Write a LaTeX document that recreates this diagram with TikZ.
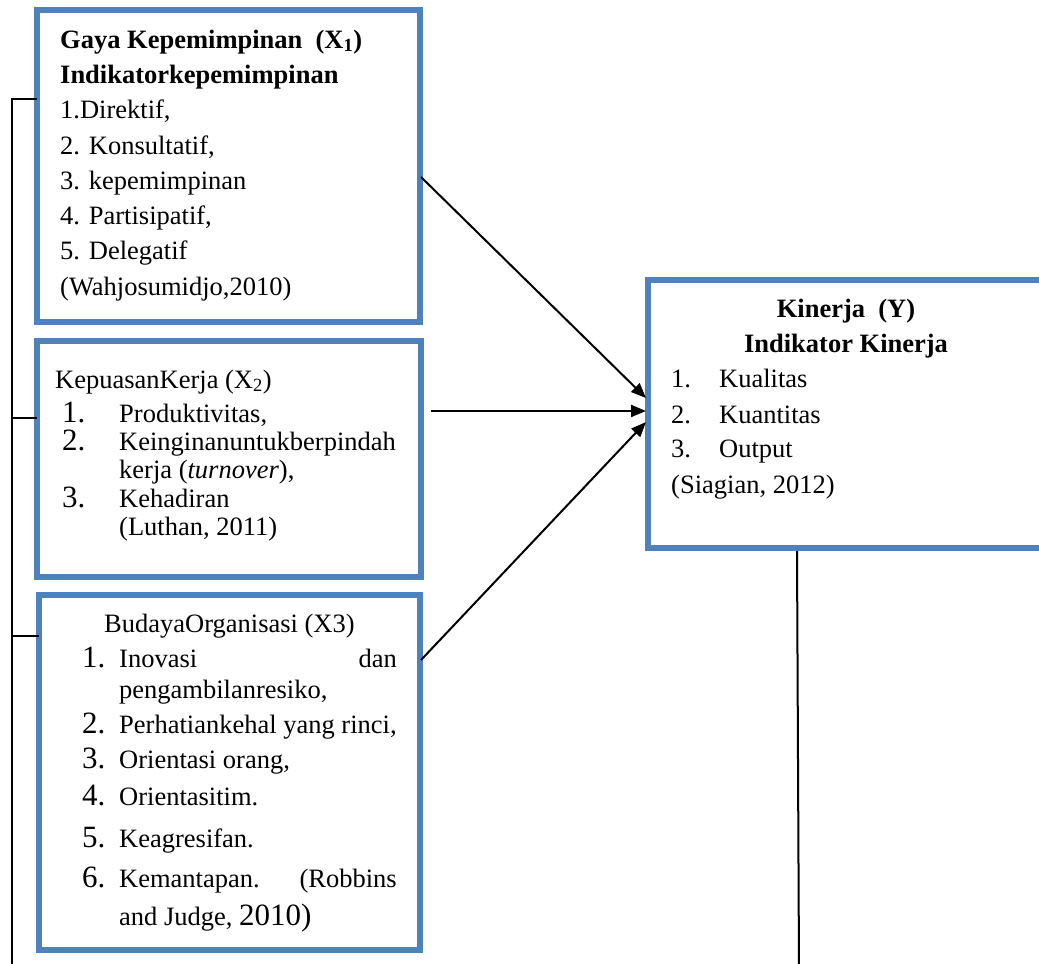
\documentclass[tikz,border=0pt]{standalone}
\usepackage{fontspec}
\setmainfont{Liberation Serif}
\usetikzlibrary{arrows.meta}
\definecolor{boxblue}{RGB}{79,129,189}
\begin{document}
\begin{tikzpicture}[x=1pt,y=-1pt,
  bluebox/.style={draw=boxblue,line width=6pt,rectangle,inner sep=0pt,outer sep=0pt,anchor=north west},
  txt/.style={inner sep=0pt,anchor=base west,font=\fontsize{26.5}{30}\selectfont},
  txtr/.style={inner sep=0pt,anchor=base east,font=\fontsize{26.5}{30}\selectfont},
  txtc/.style={inner sep=0pt,anchor=base,font=\fontsize{26.5}{30}\selectfont\bfseries},
  num/.style={inner sep=0pt,anchor=base west,font=\fontsize{31}{34}\selectfont},
  conn/.style={line width=2pt,black},
  arr/.style={line width=2pt,black,-{Triangle[length=15pt,width=12pt]}}]
\useasboundingbox (0,0) rectangle (1039,964);
\clip (0,0) rectangle (1039,964);
% boxes
\node[bluebox,minimum width=383pt,minimum height=312pt] (b1) at (37,10) {};
\node[bluebox,minimum width=384pt,minimum height=236pt] (b2) at (37,341) {};
\node[bluebox,minimum width=381pt,minimum height=355pt] (b3) at (39,595) {};
\node[bluebox,minimum width=420pt,minimum height=268pt] (by) at (648,280) {};
% box 1 text
\node[txt,font=\fontsize{26.5}{30}\selectfont\bfseries] (t11) at (60,48) {Gaya Kepemimpinan\ \ (X\textsubscript{1})};
\node[txt,font=\fontsize{26.5}{30}\selectfont\bfseries] (t12) at (60,83) {Indikatorkepemimpinan};
\node[txt] (t13) at (60,118) {1.Direktif,};
\node[txt] (t14) at (60,154) {2. Konsultatif,};
\node[txt] (t15) at (60,189) {3. kepemimpinan};
\node[txt] (t16) at (60,224) {4. Partisipatif,};
\node[txt] (t17) at (60,259) {5. Delegatif};
\node[txt] (t18) at (60,295) {(Wahjosumidjo,2010)};
% box 2 text
\node[txt] (t21) at (55,388) {KepuasanKerja (X\textsubscript{2})};
\node[num] (n21) at (62,422) {1.};
\node[txt] (t22) at (119,422) {Produktivitas,};
\node[num] (n22) at (62,450) {2.};
\node[txt] (t23) at (119,450) {Keinginanuntukberpindah};
\node[txt] (t24) at (119,478) {kerja (\textit{turnover}),};
\node[num] (n23) at (62,507) {3.};
\node[txt] (t25) at (119,507) {Kehadiran};
\node[txt] (t26) at (119,535) {(Luthan, 2011)};
% box 3 text
\node[txt] (t31) at (104,632) {BudayaOrganisasi (X3)};
\node[num] (n31) at (82,667) {1.};
\node[txt] (t32) at (119,667) {Inovasi};
\node[txtr] (t32b) at (397,667) {dan};
\node[txt] (t33) at (119,698) {pengambilanresiko,};
\node[num] (n32) at (82,733) {2.};
\node[txt] (t34) at (119,733) {Perhatiankehal yang rinci,};
\node[num] (n33) at (82,768) {3.};
\node[txt] (t35) at (119,768) {Orientasi orang,};
\node[num] (n34) at (82,805) {4.};
\node[txt] (t36) at (119,805) {Orientasitim.};
\node[num] (n35) at (82,847) {5.};
\node[txt] (t37) at (119,847) {Keagresifan.};
\node[num] (n36) at (82,887) {6.};
\node[txt] (t38) at (119,887) {Kemantapan.};
\node[txtr] (t38b) at (397,887) {(Robbins};
\node[txt] (t39) at (119,925) {and Judge, {\fontsize{31}{34}\selectfont 2010)}};
% box Y text
\node[txtc] (ty1) at (846,317) {Kinerja\ \ (Y)};
\node[txtc] (ty2) at (846,352) {Indikator Kinerja};
\node[txt] (ny1) at (671,387) {1.};
\node[txt] (ty3) at (719,387) {Kualitas};
\node[txt] (ny2) at (671,423) {2.};
\node[txt] (ty4) at (719,423) {Kuantitas};
\node[txt] (ny3) at (671,457) {3.};
\node[txt] (ty5) at (719,457) {Output};
\node[txt] (ty6) at (671,493) {(Siagian, 2012)};
% connector points
\coordinate (a1s) at (421,177);
\coordinate (a2s) at (431,411);
\coordinate (a3s) at (421,660);
\coordinate (a1e) at (646,398);
\coordinate (a2e) at (646,411);
\coordinate (a3e) at (646,422);
\coordinate (lb1) at (12,99);
\coordinate (lb2) at (12,418);
\coordinate (lb3) at (12,636);
\coordinate (lbend) at (12,970);
\coordinate (rs) at (797,551);
\coordinate (rend) at (799,970);
% arrows
\draw[arr] (a1s) -- (a1e);
\draw[arr] (a2s) -- (a2e);
\draw[arr] (a3s) -- (a3e);
% left bracket
\draw[conn] (b1.west |- lb1) -- (lb1) -- (lbend);
\draw[conn] (b2.west |- lb2) -- (lb2);
\draw[conn] (b3.west |- lb3) -- (lb3);
% right line
\draw[conn] (rs) -- (rend);
\end{tikzpicture}
\end{document}
